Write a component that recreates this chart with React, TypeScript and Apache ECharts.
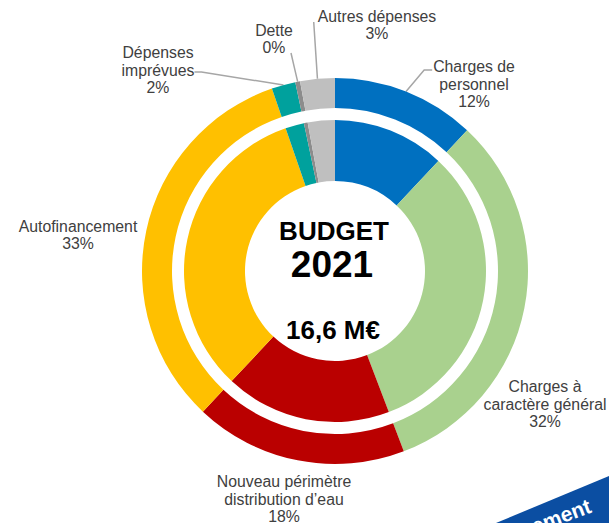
import React, { useEffect, useRef } from "react";
import * as echarts from "echarts";

// ---- data ----
const categories = [
  "Charges de\npersonnel",
  "Charges à\ncaractère général",
  "Nouveau périmètre\ndistribution d’eau",
  "Autofinancement",
  "Dépenses\nimprévues",
  "Dette",
  "Autres dépenses",
];
const outerShares = [12.0, 32.2, 17.8, 32.7, 2.0, 0.4, 2.9];
const innerShares = [12.0, 32.2, 17.8, 32.7, 2.0, 0.4, 2.9];
const sliceColors = ["#0070C0", "#A9D18E", "#BA0000", "#FFC000", "#00A19D", "#8C8C8C", "#BFBFBF"];
const centerTitle = "BUDGET";
const centerYear = "2021";
const centerTotal = "16,6 M€";
const bannerText = "Fonctionnement";

// ---- layout (label centres, leader lines) ----
const labelCenters: [number, number][] = [
  [474, 84],
  [545, 404],
  [284, 499],
  [78, 235],
  [158, 70],
  [274, 39],
  [377, 25],
];
const withLeader = [true, false, false, false, true, true, true];

const FONT = "'Liberation Sans', Arial, sans-serif";

export default function App() {
  const ref = useRef<HTMLDivElement>(null);
  useEffect(() => {
    if (!ref.current) return;
    const chart = echarts.init(ref.current, undefined, { renderer: "svg" });
    const center = [335, 271];
    chart.setOption({
      animation: false,
      backgroundColor: "#ffffff",
      series: [
        {
          type: "pie",
          center,
          radius: [163, 193],
          startAngle: 90,
          clockwise: true,
          percentPrecision: 0,
          avoidLabelOverlap: false,
          silent: true,
          label: {
            show: true,
            formatter: "{b}\n{d}%",
            color: "#404040",
            fontFamily: FONT,
            fontSize: 15.8,
            lineHeight: 17.8,
            align: "center",
          },
          labelLine: {
            show: true,
            lineStyle: { color: "#A6A6A6", width: 1.5 },
          },
          labelLayout: (params: any) => {
            const i = params.dataIndex;
            const [cx, cy] = labelCenters[i];
            const res: any = { x: cx, y: cy, align: "center", verticalAlign: "middle" };
            const s = params.labelLinePoints && params.labelLinePoints[0];
            if (s && withLeader[i]) {
              const w = params.labelRect.width;
              let end: number[];
              let elbow: number[];
              if (i === 0) {
                end = [cx - w / 2 - 1, cy - 14];
                elbow = [end[0] - 8, end[1]];
              } else if (i === 4) {
                end = [cx + w / 2, cy + 2];
                elbow = [end[0] + 7, end[1]];
              } else if (i === 5) {
                end = [cx + 17, cy + 14];
                elbow = [(end[0] + s[0]) / 2, (end[1] + s[1]) / 2];
              } else {
                end = [cx - w / 2 - 4, cy - 3];
                elbow = [(end[0] + s[0]) / 2, (end[1] + s[1]) / 2];
              }
              res.labelLinePoints = [[s[0], s[1]], elbow, end];
            }
            return res;
          },
          data: categories.map((name, i) => ({
            name,
            value: outerShares[i],
            itemStyle: { color: sliceColors[i] },
            labelLine: { show: withLeader[i] },
          })),
        },
        {
          type: "pie",
          center,
          radius: [90, 151],
          startAngle: 90,
          clockwise: true,
          silent: true,
          label: { show: false },
          labelLine: { show: false },
          data: categories.map((name, i) => ({
            name,
            value: innerShares[i],
            itemStyle: { color: sliceColors[i] },
          })),
        },
      ],
      graphic: [
        {
          type: "text",
          x: 334,
          y: 231,
          style: {
            text: centerTitle,
            fontFamily: FONT,
            fontWeight: "bold",
            fontSize: 26,
            fill: "#000000",
            align: "center",
            verticalAlign: "middle",
          },
        },
        {
          type: "text",
          x: 332,
          y: 264,
          style: {
            text: centerYear,
            fontFamily: FONT,
            fontWeight: "bold",
            fontSize: 37,
            fill: "#000000",
            align: "center",
            verticalAlign: "middle",
          },
        },
        {
          type: "text",
          x: 333,
          y: 330,
          style: {
            text: centerTotal,
            fontFamily: FONT,
            fontWeight: "bold",
            fontSize: 26,
            fill: "#000000",
            align: "center",
            verticalAlign: "middle",
          },
        },
        {
          type: "polygon",
          shape: {
            points: [
              [625, 469.3],
              [460, 538],
              [625, 640],
            ],
          },
          style: { fill: "#0B4EA2" },
        },
        {
          type: "text",
          x: 590,
          y: 505,
          rotation: 0.36,
          style: {
            text: bannerText,
            fontFamily: FONT,
            fontWeight: "bold",
            fontSize: 21,
            fill: "#ffffff",
            align: "right",
            verticalAlign: "middle",
          },
        },
      ],
    });
    return () => chart.dispose();
  }, []);
  return (
    <div
      ref={ref}
      style={{ position: "fixed", left: 0, top: 0, width: 609, height: 523 }}
    />
  );
}
